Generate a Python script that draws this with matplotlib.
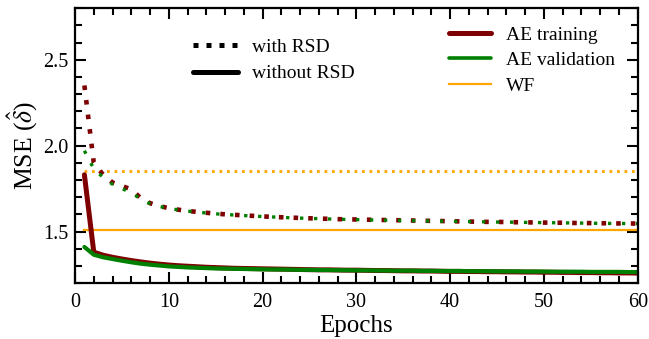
import matplotlib
matplotlib.use("Agg")
import matplotlib.pyplot as plt
from matplotlib.lines import Line2D
from matplotlib.ticker import MultipleLocator

plt.rcParams['font.family'] = ['Liberation Serif', 'DejaVu Serif']
plt.rcParams['mathtext.fontset'] = 'stix'

epochs = list(range(1, 61))

train_rsd = [2.35, 1.90, 1.83, 1.785, 1.765, 1.745, 1.695, 1.665, 1.648, 1.636,
             1.627, 1.620, 1.614, 1.609, 1.604, 1.600, 1.597, 1.594, 1.591, 1.588,
             1.585, 1.583, 1.581, 1.579, 1.577, 1.575, 1.574, 1.572, 1.571, 1.570,
             1.569, 1.568, 1.567, 1.566, 1.565, 1.564, 1.563, 1.562, 1.561, 1.560,
             1.559, 1.558, 1.557, 1.556, 1.556, 1.555, 1.554, 1.553, 1.553, 1.552,
             1.551, 1.551, 1.550, 1.549, 1.549, 1.548, 1.548, 1.547, 1.547, 1.546]
val_rsd = [1.97, 1.865, 1.815, 1.775, 1.750, 1.725, 1.690, 1.662, 1.646, 1.634,
           1.626, 1.619, 1.613, 1.608, 1.603, 1.599, 1.596, 1.593, 1.590, 1.587,
           1.585, 1.582, 1.580, 1.578, 1.576, 1.575, 1.573, 1.572, 1.570, 1.569,
           1.568, 1.567, 1.566, 1.565, 1.564, 1.563, 1.562, 1.561, 1.560, 1.560,
           1.559, 1.558, 1.557, 1.556, 1.555, 1.555, 1.554, 1.553, 1.552, 1.552,
           1.551, 1.550, 1.550, 1.549, 1.548, 1.548, 1.547, 1.547, 1.546, 1.546]
train_norsd = [1.83, 1.38, 1.362, 1.350, 1.340, 1.331, 1.323, 1.316, 1.310, 1.305,
               1.301, 1.298, 1.295, 1.292, 1.290, 1.288, 1.286, 1.285, 1.284, 1.283,
               1.282, 1.281, 1.280, 1.279, 1.278, 1.277, 1.277, 1.276, 1.275, 1.275,
               1.274, 1.273, 1.273, 1.272, 1.271, 1.271, 1.270, 1.270, 1.269, 1.268,
               1.268, 1.267, 1.267, 1.266, 1.266, 1.265, 1.265, 1.264, 1.264, 1.263,
               1.263, 1.262, 1.262, 1.261, 1.261, 1.260, 1.260, 1.259, 1.259, 1.258]
val_norsd = [1.41, 1.365, 1.350, 1.340, 1.330, 1.321, 1.313, 1.307, 1.302, 1.297,
             1.294, 1.291, 1.289, 1.287, 1.285, 1.284, 1.283, 1.282, 1.281, 1.280,
             1.279, 1.279, 1.278, 1.277, 1.277, 1.276, 1.276, 1.275, 1.275, 1.274,
             1.274, 1.273, 1.273, 1.272, 1.272, 1.272, 1.271, 1.271, 1.270, 1.270,
             1.270, 1.269, 1.269, 1.269, 1.268, 1.268, 1.268, 1.267, 1.267, 1.267,
             1.266, 1.266, 1.266, 1.266, 1.265, 1.265, 1.265, 1.265, 1.264, 1.264]
wf_rsd = 1.85
wf_norsd = 1.51

c_train = '#7f0000'
c_val = 'green'
c_wf = 'orange'

fig = plt.figure(figsize=(6.49, 3.39), dpi=100)
ax = fig.add_axes([0.1156, 0.165, 0.867, 0.811])

wf_x = [epochs[0], epochs[-1]]
ax.plot(wf_x, [wf_rsd, wf_rsd], color=c_wf, lw=2.0, linestyle=(0, (1, 1.7)))
ax.plot(wf_x, [wf_norsd, wf_norsd], color=c_wf, lw=1.6)

ax.plot(epochs, train_rsd, color=c_train, lw=3.3, linestyle=(0, (1, 2.2)))
ax.plot(epochs, val_rsd, color=c_val, lw=2.4, linestyle=(0, (1, 3.2)))
ax.plot(epochs, train_norsd, color=c_train, lw=3.6, solid_capstyle='round')
ax.plot(epochs, val_norsd, color=c_val, lw=3.0, solid_capstyle='round')

ax.set_xlim(0, 60)
ax.set_ylim(1.2, 2.8)
ax.xaxis.set_major_locator(MultipleLocator(10))
ax.xaxis.set_minor_locator(MultipleLocator(2))
ax.yaxis.set_major_locator(MultipleLocator(0.5))
ax.yaxis.set_minor_locator(MultipleLocator(0.1))
ax.tick_params(which='both', direction='in', top=True, right=True, width=1.5,
               labelsize=14.5)
ax.tick_params(which='major', length=8)
ax.tick_params(which='minor', length=5)
ax.tick_params(axis='x', which='both', pad=7)
ax.tick_params(axis='y', which='both', pad=5)
for s in ax.spines.values():
    s.set_linewidth(1.6)

ax.set_xlabel('Epochs', fontsize=18, labelpad=2)
ax.set_ylabel(r'MSE ($\hat{\delta}$)', fontsize=18.5, labelpad=2)

h1 = [Line2D([], [], color='black', lw=3.6, linestyle=(0, (1, 1.6))),
      Line2D([], [], color='black', lw=3.6, solid_capstyle='round')]
leg1 = ax.legend(h1, ['with RSD', 'without RSD'], loc='upper left',
                 bbox_to_anchor=(0.21, 0.89), frameon=False, fontsize=14,
                 handlelength=2.3, handletextpad=0.75, labelspacing=0.45,
                 borderpad=0, borderaxespad=0)
ax.add_artist(leg1)

h2 = [Line2D([], [], color=c_train, lw=3.6, solid_capstyle='round'),
      Line2D([], [], color=c_val, lw=2.6, solid_capstyle='round'),
      Line2D([], [], color=c_wf, lw=1.6)]
ax.legend(h2, ['AE training', 'AE validation', 'WF'], loc='upper left',
          bbox_to_anchor=(0.664, 0.934), frameon=False, fontsize=14,
          handlelength=2.2, handletextpad=0.75, labelspacing=0.4,
          borderpad=0, borderaxespad=0)

fig.savefig('out.png', dpi=100)
